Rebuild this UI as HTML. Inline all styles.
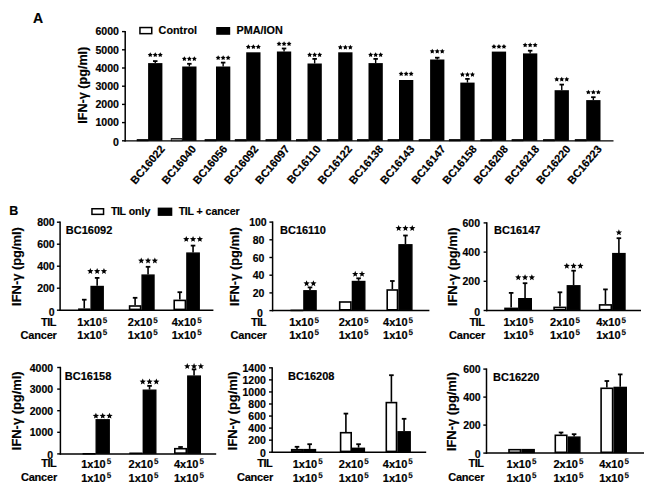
<!DOCTYPE html>
<html><head><meta charset="utf-8"><style>
html,body{margin:0;padding:0;background:#fff;width:650px;height:488px;overflow:hidden}
svg text{font-family:"Liberation Sans", sans-serif;font-weight:bold;fill:#000;stroke:#000;stroke-width:0.18px}
</style></head><body>
<svg width="650" height="488" viewBox="0 0 650 488" font-family='"Liberation Sans", sans-serif' font-weight="bold" style="display:block">
<rect width="650" height="488" fill="#fff"/>
<text x="33.00" y="22.60" font-size="14" text-anchor="start">A</text>
<rect x="139.95" y="27.55" width="11.80" height="6.10" fill="#fff" stroke="#000" stroke-width="1.5"/>
<text x="158.60" y="34.00" font-size="10.8" text-anchor="start">Control</text>
<rect x="216.20" y="27.00" width="14.00" height="7.80" fill="#000"/>
<text x="236.50" y="34.00" font-size="10.8" text-anchor="start">PMA/ION</text>
<line x1="125.20" y1="31.00" x2="125.20" y2="141.50" stroke="#000" stroke-width="1.5"/>
<line x1="124.50" y1="140.80" x2="613.50" y2="140.80" stroke="#000" stroke-width="1.3"/>
<line x1="122.00" y1="140.80" x2="125.20" y2="140.80" stroke="#000" stroke-width="1.4"/>
<text x="119.00" y="146.20" font-size="10.6" text-anchor="end">0</text>
<line x1="122.00" y1="122.60" x2="125.20" y2="122.60" stroke="#000" stroke-width="1.4"/>
<text x="119.00" y="126.40" font-size="10.6" text-anchor="end">1000</text>
<line x1="122.00" y1="104.40" x2="125.20" y2="104.40" stroke="#000" stroke-width="1.4"/>
<text x="119.00" y="108.20" font-size="10.6" text-anchor="end">2000</text>
<line x1="122.00" y1="86.20" x2="125.20" y2="86.20" stroke="#000" stroke-width="1.4"/>
<text x="119.00" y="90.00" font-size="10.6" text-anchor="end">3000</text>
<line x1="122.00" y1="68.00" x2="125.20" y2="68.00" stroke="#000" stroke-width="1.4"/>
<text x="119.00" y="71.80" font-size="10.6" text-anchor="end">4000</text>
<line x1="122.00" y1="49.80" x2="125.20" y2="49.80" stroke="#000" stroke-width="1.4"/>
<text x="119.00" y="53.60" font-size="10.6" text-anchor="end">5000</text>
<line x1="122.00" y1="31.60" x2="125.20" y2="31.60" stroke="#000" stroke-width="1.4"/>
<text x="119.00" y="35.40" font-size="10.6" text-anchor="end">6000</text>
<text x="87.20" y="85.20" font-size="12.6" text-anchor="middle" transform="rotate(-90 87.20 85.20)">IFN-γ (pg/ml)</text>
<rect x="137.10" y="139.60" width="11" height="1.20" fill="#000" stroke="#000" stroke-width="0.8"/>
<rect x="148.10" y="63.10" width="14.30" height="77.70" fill="#000"/>
<line x1="155.25" y1="63.10" x2="155.25" y2="61.10" stroke="#000" stroke-width="1.4"/>
<line x1="153.00" y1="61.10" x2="157.50" y2="61.10" stroke="#000" stroke-width="1.8"/>
<polygon points="150.25,52.36 151.04,53.87 152.72,54.16 151.54,55.38 151.78,57.06 150.25,56.31 148.72,57.06 148.96,55.38 147.78,54.16 149.46,53.87" fill="#000"/>
<polygon points="155.25,52.36 156.04,53.87 157.72,54.16 156.54,55.38 156.78,57.06 155.25,56.31 153.72,57.06 153.96,55.38 152.78,54.16 154.46,53.87" fill="#000"/>
<polygon points="160.25,52.36 161.04,53.87 162.72,54.16 161.54,55.38 161.78,57.06 160.25,56.31 158.72,57.06 158.96,55.38 157.78,54.16 159.46,53.87" fill="#000"/>
<text x="165.40" y="149.30" font-size="11" text-anchor="end" transform="rotate(-50 165.40 149.30)">BC16022</text>
<rect x="171.20" y="138.60" width="11" height="2.20" fill="#888" stroke="#000" stroke-width="0.8"/>
<rect x="182.20" y="66.50" width="14.30" height="74.30" fill="#000"/>
<line x1="189.35" y1="66.50" x2="189.35" y2="63.80" stroke="#000" stroke-width="1.4"/>
<line x1="187.10" y1="63.80" x2="191.60" y2="63.80" stroke="#000" stroke-width="1.8"/>
<polygon points="184.35,56.21 185.14,57.72 186.82,58.01 185.64,59.23 185.88,60.91 184.35,60.16 182.82,60.91 183.06,59.23 181.88,58.01 183.56,57.72" fill="#000"/>
<polygon points="189.35,56.21 190.14,57.72 191.82,58.01 190.64,59.23 190.88,60.91 189.35,60.16 187.82,60.91 188.06,59.23 186.88,58.01 188.56,57.72" fill="#000"/>
<polygon points="194.35,56.21 195.14,57.72 196.82,58.01 195.64,59.23 195.88,60.91 194.35,60.16 192.82,60.91 193.06,59.23 191.88,58.01 193.56,57.72" fill="#000"/>
<text x="196.61" y="149.30" font-size="11" text-anchor="end" transform="rotate(-50 196.61 149.30)">BC16040</text>
<rect x="205.00" y="139.60" width="11" height="1.20" fill="#000" stroke="#000" stroke-width="0.8"/>
<rect x="216.00" y="66.50" width="14.30" height="74.30" fill="#000"/>
<line x1="223.15" y1="66.50" x2="223.15" y2="62.60" stroke="#000" stroke-width="1.4"/>
<line x1="220.90" y1="62.60" x2="225.40" y2="62.60" stroke="#000" stroke-width="1.8"/>
<polygon points="218.15,55.21 218.94,56.72 220.62,57.01 219.44,58.23 219.68,59.91 218.15,59.16 216.62,59.91 216.86,58.23 215.68,57.01 217.36,56.72" fill="#000"/>
<polygon points="223.15,55.21 223.94,56.72 225.62,57.01 224.44,58.23 224.68,59.91 223.15,59.16 221.62,59.91 221.86,58.23 220.68,57.01 222.36,56.72" fill="#000"/>
<polygon points="228.15,55.21 228.94,56.72 230.62,57.01 229.44,58.23 229.68,59.91 228.15,59.16 226.62,59.91 226.86,58.23 225.68,57.01 227.36,56.72" fill="#000"/>
<text x="227.82" y="149.30" font-size="11" text-anchor="end" transform="rotate(-50 227.82 149.30)">BC16056</text>
<rect x="235.20" y="139.60" width="11" height="1.20" fill="#000" stroke="#000" stroke-width="0.8"/>
<rect x="246.20" y="52.30" width="14.30" height="88.50" fill="#000"/>
<polygon points="248.35,44.36 249.14,45.87 250.82,46.16 249.64,47.38 249.88,49.06 248.35,48.31 246.82,49.06 247.06,47.38 245.88,46.16 247.56,45.87" fill="#000"/>
<polygon points="253.35,44.36 254.14,45.87 255.82,46.16 254.64,47.38 254.88,49.06 253.35,48.31 251.82,49.06 252.06,47.38 250.88,46.16 252.56,45.87" fill="#000"/>
<polygon points="258.35,44.36 259.14,45.87 260.82,46.16 259.64,47.38 259.88,49.06 258.35,48.31 256.82,49.06 257.06,47.38 255.88,46.16 257.56,45.87" fill="#000"/>
<text x="259.03" y="149.30" font-size="11" text-anchor="end" transform="rotate(-50 259.03 149.30)">BC16092</text>
<rect x="265.90" y="139.60" width="11" height="1.20" fill="#000" stroke="#000" stroke-width="0.8"/>
<rect x="276.90" y="51.50" width="14.30" height="89.30" fill="#000"/>
<line x1="284.05" y1="51.50" x2="284.05" y2="48.50" stroke="#000" stroke-width="1.4"/>
<line x1="281.80" y1="48.50" x2="286.30" y2="48.50" stroke="#000" stroke-width="1.8"/>
<polygon points="279.05,41.26 279.84,42.77 281.52,43.06 280.34,44.28 280.58,45.96 279.05,45.21 277.52,45.96 277.76,44.28 276.58,43.06 278.26,42.77" fill="#000"/>
<polygon points="284.05,41.26 284.84,42.77 286.52,43.06 285.34,44.28 285.58,45.96 284.05,45.21 282.52,45.96 282.76,44.28 281.58,43.06 283.26,42.77" fill="#000"/>
<polygon points="289.05,41.26 289.84,42.77 291.52,43.06 290.34,44.28 290.58,45.96 289.05,45.21 287.52,45.96 287.76,44.28 286.58,43.06 288.26,42.77" fill="#000"/>
<text x="290.24" y="149.30" font-size="11" text-anchor="end" transform="rotate(-50 290.24 149.30)">BC16097</text>
<rect x="296.50" y="139.60" width="11" height="1.20" fill="#000" stroke="#000" stroke-width="0.8"/>
<rect x="307.50" y="63.50" width="14.30" height="77.30" fill="#000"/>
<line x1="314.65" y1="63.50" x2="314.65" y2="58.90" stroke="#000" stroke-width="1.4"/>
<line x1="312.40" y1="58.90" x2="316.90" y2="58.90" stroke="#000" stroke-width="1.8"/>
<polygon points="309.65,52.31 310.44,53.82 312.12,54.11 310.94,55.33 311.18,57.01 309.65,56.26 308.12,57.01 308.36,55.33 307.18,54.11 308.86,53.82" fill="#000"/>
<polygon points="314.65,52.31 315.44,53.82 317.12,54.11 315.94,55.33 316.18,57.01 314.65,56.26 313.12,57.01 313.36,55.33 312.18,54.11 313.86,53.82" fill="#000"/>
<polygon points="319.65,52.31 320.44,53.82 322.12,54.11 320.94,55.33 321.18,57.01 319.65,56.26 318.12,57.01 318.36,55.33 317.18,54.11 318.86,53.82" fill="#000"/>
<text x="321.45" y="149.30" font-size="11" text-anchor="end" transform="rotate(-50 321.45 149.30)">BC16110</text>
<rect x="327.20" y="139.60" width="11" height="1.20" fill="#000" stroke="#000" stroke-width="0.8"/>
<rect x="338.20" y="52.30" width="14.30" height="88.50" fill="#000"/>
<polygon points="340.35,44.71 341.14,46.22 342.82,46.51 341.64,47.73 341.88,49.41 340.35,48.66 338.82,49.41 339.06,47.73 337.88,46.51 339.56,46.22" fill="#000"/>
<polygon points="345.35,44.71 346.14,46.22 347.82,46.51 346.64,47.73 346.88,49.41 345.35,48.66 343.82,49.41 344.06,47.73 342.88,46.51 344.56,46.22" fill="#000"/>
<polygon points="350.35,44.71 351.14,46.22 352.82,46.51 351.64,47.73 351.88,49.41 350.35,48.66 348.82,49.41 349.06,47.73 347.88,46.51 349.56,46.22" fill="#000"/>
<text x="352.66" y="149.30" font-size="11" text-anchor="end" transform="rotate(-50 352.66 149.30)">BC16122</text>
<rect x="357.50" y="139.60" width="11" height="1.20" fill="#000" stroke="#000" stroke-width="0.8"/>
<rect x="368.50" y="63.10" width="14.30" height="77.70" fill="#000"/>
<line x1="375.65" y1="63.10" x2="375.65" y2="58.90" stroke="#000" stroke-width="1.4"/>
<line x1="373.40" y1="58.90" x2="377.90" y2="58.90" stroke="#000" stroke-width="1.8"/>
<polygon points="370.65,52.31 371.44,53.82 373.12,54.11 371.94,55.33 372.18,57.01 370.65,56.26 369.12,57.01 369.36,55.33 368.18,54.11 369.86,53.82" fill="#000"/>
<polygon points="375.65,52.31 376.44,53.82 378.12,54.11 376.94,55.33 377.18,57.01 375.65,56.26 374.12,57.01 374.36,55.33 373.18,54.11 374.86,53.82" fill="#000"/>
<polygon points="380.65,52.31 381.44,53.82 383.12,54.11 381.94,55.33 382.18,57.01 380.65,56.26 379.12,57.01 379.36,55.33 378.18,54.11 379.86,53.82" fill="#000"/>
<text x="383.87" y="149.30" font-size="11" text-anchor="end" transform="rotate(-50 383.87 149.30)">BC16138</text>
<rect x="388.00" y="139.60" width="11" height="1.20" fill="#000" stroke="#000" stroke-width="0.8"/>
<rect x="399.00" y="80.00" width="14.30" height="60.80" fill="#000"/>
<polygon points="401.15,71.26 401.94,72.77 403.62,73.06 402.44,74.28 402.68,75.96 401.15,75.21 399.62,75.96 399.86,74.28 398.68,73.06 400.36,72.77" fill="#000"/>
<polygon points="406.15,71.26 406.94,72.77 408.62,73.06 407.44,74.28 407.68,75.96 406.15,75.21 404.62,75.96 404.86,74.28 403.68,73.06 405.36,72.77" fill="#000"/>
<polygon points="411.15,71.26 411.94,72.77 413.62,73.06 412.44,74.28 412.68,75.96 411.15,75.21 409.62,75.96 409.86,74.28 408.68,73.06 410.36,72.77" fill="#000"/>
<text x="415.08" y="149.30" font-size="11" text-anchor="end" transform="rotate(-50 415.08 149.30)">BC16143</text>
<rect x="419.10" y="139.60" width="11" height="1.20" fill="#000" stroke="#000" stroke-width="0.8"/>
<rect x="430.10" y="59.50" width="14.30" height="81.30" fill="#000"/>
<line x1="437.25" y1="59.50" x2="437.25" y2="57.70" stroke="#000" stroke-width="1.4"/>
<line x1="435.00" y1="57.70" x2="439.50" y2="57.70" stroke="#000" stroke-width="1.8"/>
<polygon points="432.25,48.71 433.04,50.22 434.72,50.51 433.54,51.73 433.78,53.41 432.25,52.66 430.72,53.41 430.96,51.73 429.78,50.51 431.46,50.22" fill="#000"/>
<polygon points="437.25,48.71 438.04,50.22 439.72,50.51 438.54,51.73 438.78,53.41 437.25,52.66 435.72,53.41 435.96,51.73 434.78,50.51 436.46,50.22" fill="#000"/>
<polygon points="442.25,48.71 443.04,50.22 444.72,50.51 443.54,51.73 443.78,53.41 442.25,52.66 440.72,53.41 440.96,51.73 439.78,50.51 441.46,50.22" fill="#000"/>
<text x="446.29" y="149.30" font-size="11" text-anchor="end" transform="rotate(-50 446.29 149.30)">BC16147</text>
<rect x="449.30" y="139.60" width="11" height="1.20" fill="#000" stroke="#000" stroke-width="0.8"/>
<rect x="460.30" y="82.60" width="14.30" height="58.20" fill="#000"/>
<line x1="467.45" y1="82.60" x2="467.45" y2="78.90" stroke="#000" stroke-width="1.4"/>
<line x1="465.20" y1="78.90" x2="469.70" y2="78.90" stroke="#000" stroke-width="1.8"/>
<polygon points="462.45,72.01 463.24,73.52 464.92,73.81 463.74,75.03 463.98,76.71 462.45,75.96 460.92,76.71 461.16,75.03 459.98,73.81 461.66,73.52" fill="#000"/>
<polygon points="467.45,72.01 468.24,73.52 469.92,73.81 468.74,75.03 468.98,76.71 467.45,75.96 465.92,76.71 466.16,75.03 464.98,73.81 466.66,73.52" fill="#000"/>
<polygon points="472.45,72.01 473.24,73.52 474.92,73.81 473.74,75.03 473.98,76.71 472.45,75.96 470.92,76.71 471.16,75.03 469.98,73.81 471.66,73.52" fill="#000"/>
<text x="477.50" y="149.30" font-size="11" text-anchor="end" transform="rotate(-50 477.50 149.30)">BC16158</text>
<rect x="480.80" y="139.60" width="11" height="1.20" fill="#000" stroke="#000" stroke-width="0.8"/>
<rect x="491.80" y="51.60" width="14.30" height="89.20" fill="#000"/>
<polygon points="493.95,44.11 494.74,45.62 496.42,45.91 495.24,47.13 495.48,48.81 493.95,48.06 492.42,48.81 492.66,47.13 491.48,45.91 493.16,45.62" fill="#000"/>
<polygon points="498.95,44.11 499.74,45.62 501.42,45.91 500.24,47.13 500.48,48.81 498.95,48.06 497.42,48.81 497.66,47.13 496.48,45.91 498.16,45.62" fill="#000"/>
<polygon points="503.95,44.11 504.74,45.62 506.42,45.91 505.24,47.13 505.48,48.81 503.95,48.06 502.42,48.81 502.66,47.13 501.48,45.91 503.16,45.62" fill="#000"/>
<text x="508.71" y="149.30" font-size="11" text-anchor="end" transform="rotate(-50 508.71 149.30)">BC16208</text>
<rect x="512.00" y="139.60" width="11" height="1.20" fill="#000" stroke="#000" stroke-width="0.8"/>
<rect x="523.00" y="53.40" width="14.30" height="87.40" fill="#000"/>
<line x1="530.15" y1="53.40" x2="530.15" y2="50.70" stroke="#000" stroke-width="1.4"/>
<line x1="527.90" y1="50.70" x2="532.40" y2="50.70" stroke="#000" stroke-width="1.8"/>
<polygon points="525.15,42.46 525.94,43.97 527.62,44.26 526.44,45.48 526.68,47.16 525.15,46.41 523.62,47.16 523.86,45.48 522.68,44.26 524.36,43.97" fill="#000"/>
<polygon points="530.15,42.46 530.94,43.97 532.62,44.26 531.44,45.48 531.68,47.16 530.15,46.41 528.62,47.16 528.86,45.48 527.68,44.26 529.36,43.97" fill="#000"/>
<polygon points="535.15,42.46 535.94,43.97 537.62,44.26 536.44,45.48 536.68,47.16 535.15,46.41 533.62,47.16 533.86,45.48 532.68,44.26 534.36,43.97" fill="#000"/>
<text x="539.92" y="149.30" font-size="11" text-anchor="end" transform="rotate(-50 539.92 149.30)">BC16218</text>
<rect x="543.60" y="139.60" width="11" height="1.20" fill="#000" stroke="#000" stroke-width="0.8"/>
<rect x="554.60" y="90.20" width="14.30" height="50.60" fill="#000"/>
<line x1="561.75" y1="90.20" x2="561.75" y2="84.60" stroke="#000" stroke-width="1.4"/>
<line x1="559.50" y1="84.60" x2="564.00" y2="84.60" stroke="#000" stroke-width="1.8"/>
<polygon points="556.75,76.71 557.54,78.22 559.22,78.51 558.04,79.73 558.28,81.41 556.75,80.66 555.22,81.41 555.46,79.73 554.28,78.51 555.96,78.22" fill="#000"/>
<polygon points="561.75,76.71 562.54,78.22 564.22,78.51 563.04,79.73 563.28,81.41 561.75,80.66 560.22,81.41 560.46,79.73 559.28,78.51 560.96,78.22" fill="#000"/>
<polygon points="566.75,76.71 567.54,78.22 569.22,78.51 568.04,79.73 568.28,81.41 566.75,80.66 565.22,81.41 565.46,79.73 564.28,78.51 565.96,78.22" fill="#000"/>
<text x="571.13" y="149.30" font-size="11" text-anchor="end" transform="rotate(-50 571.13 149.30)">BC16220</text>
<rect x="575.20" y="139.60" width="11" height="1.20" fill="#000" stroke="#000" stroke-width="0.8"/>
<rect x="586.20" y="100.10" width="14.30" height="40.70" fill="#000"/>
<line x1="593.35" y1="100.10" x2="593.35" y2="97.20" stroke="#000" stroke-width="1.4"/>
<line x1="591.10" y1="97.20" x2="595.60" y2="97.20" stroke="#000" stroke-width="1.8"/>
<polygon points="588.35,89.66 589.14,91.17 590.82,91.46 589.64,92.68 589.88,94.36 588.35,93.61 586.82,94.36 587.06,92.68 585.88,91.46 587.56,91.17" fill="#000"/>
<polygon points="593.35,89.66 594.14,91.17 595.82,91.46 594.64,92.68 594.88,94.36 593.35,93.61 591.82,94.36 592.06,92.68 590.88,91.46 592.56,91.17" fill="#000"/>
<polygon points="598.35,89.66 599.14,91.17 600.82,91.46 599.64,92.68 599.88,94.36 598.35,93.61 596.82,94.36 597.06,92.68 595.88,91.46 597.56,91.17" fill="#000"/>
<text x="602.34" y="149.30" font-size="11" text-anchor="end" transform="rotate(-50 602.34 149.30)">BC16223</text>
<text x="9.20" y="214.50" font-size="12.5" text-anchor="start">B</text>
<rect x="91.95" y="208.75" width="11.60" height="5.60" fill="#fff" stroke="#000" stroke-width="1.5"/>
<text x="111.0" y="214.6" font-size="10.6"><tspan letter-spacing="-0.4">TIL</tspan> only</text>
<rect x="157.70" y="207.60" width="14.60" height="8.30" fill="#000"/>
<text x="178.8" y="214.6" font-size="10.6"><tspan letter-spacing="-0.4">TIL</tspan> + cancer</text>
<line x1="60.10" y1="221.50" x2="60.10" y2="310.90" stroke="#000" stroke-width="1.5"/>
<line x1="59.40" y1="310.20" x2="213.40" y2="310.20" stroke="#000" stroke-width="1.5"/>
<line x1="56.90" y1="310.20" x2="60.10" y2="310.20" stroke="#000" stroke-width="1.4"/>
<text x="54.70" y="315.60" font-size="10.5" text-anchor="end">0</text>
<line x1="56.90" y1="288.20" x2="60.10" y2="288.20" stroke="#000" stroke-width="1.4"/>
<text x="54.70" y="292.20" font-size="10.5" text-anchor="end">200</text>
<line x1="56.90" y1="266.20" x2="60.10" y2="266.20" stroke="#000" stroke-width="1.4"/>
<text x="54.70" y="270.20" font-size="10.5" text-anchor="end">400</text>
<line x1="56.90" y1="244.20" x2="60.10" y2="244.20" stroke="#000" stroke-width="1.4"/>
<text x="54.70" y="248.20" font-size="10.5" text-anchor="end">600</text>
<line x1="56.90" y1="222.20" x2="60.10" y2="222.20" stroke="#000" stroke-width="1.4"/>
<text x="54.70" y="226.20" font-size="10.5" text-anchor="end">800</text>
<text x="65.80" y="233.60" font-size="11" text-anchor="start">BC16092</text>
<text x="21.20" y="266.50" font-size="12.9" text-anchor="middle" transform="rotate(-90 21.20 266.50)">IFN-γ (pg/ml)</text>
<rect x="78.90" y="309.20" width="10.70" height="0.20" fill="#fff" stroke="#000" stroke-width="1.6"/>
<rect x="91.10" y="286.50" width="12.10" height="23.00" fill="#000" stroke="#000" stroke-width="1.4"/>
<line x1="84.25" y1="308.40" x2="84.25" y2="299.70" stroke="#000" stroke-width="1.6"/>
<line x1="81.95" y1="299.70" x2="86.55" y2="299.70" stroke="#000" stroke-width="1.8"/>
<line x1="97.15" y1="285.80" x2="97.15" y2="277.90" stroke="#000" stroke-width="1.6"/>
<line x1="94.85" y1="277.90" x2="99.45" y2="277.90" stroke="#000" stroke-width="1.8"/>
<polygon points="90.35,267.93 91.20,270.06 93.49,270.21 91.73,271.68 92.29,273.90 90.35,272.68 88.41,273.90 88.97,271.68 87.21,270.21 89.50,270.06" fill="#000"/>
<polygon points="97.15,267.93 98.00,270.06 100.29,270.21 98.53,271.68 99.09,273.90 97.15,272.68 95.21,273.90 95.77,271.68 94.01,270.21 96.30,270.06" fill="#000"/>
<polygon points="103.95,267.93 104.80,270.06 107.09,270.21 105.33,271.68 105.89,273.90 103.95,272.68 102.01,273.90 102.57,271.68 100.81,270.21 103.10,270.06" fill="#000"/>
<text x="92.25" y="326.30" font-size="11" text-anchor="middle">1x10<tspan font-size="8" dx="1.0" dy="-3.6" style="stroke-width:0.1px;text-rendering:geometricPrecision">5</tspan></text>
<text x="92.25" y="339.00" font-size="11" text-anchor="middle">1x10<tspan font-size="8" dx="1.0" dy="-3.6" style="stroke-width:0.1px;text-rendering:geometricPrecision">5</tspan></text>
<rect x="129.60" y="306.00" width="11.00" height="3.40" fill="#fff" stroke="#000" stroke-width="1.6"/>
<rect x="142.10" y="275.10" width="11.90" height="34.40" fill="#000" stroke="#000" stroke-width="1.4"/>
<line x1="135.10" y1="305.20" x2="135.10" y2="297.80" stroke="#000" stroke-width="1.6"/>
<line x1="132.80" y1="297.80" x2="137.40" y2="297.80" stroke="#000" stroke-width="1.8"/>
<line x1="148.05" y1="274.40" x2="148.05" y2="266.80" stroke="#000" stroke-width="1.6"/>
<line x1="145.75" y1="266.80" x2="150.35" y2="266.80" stroke="#000" stroke-width="1.8"/>
<polygon points="141.25,257.48 142.10,259.61 144.39,259.76 142.63,261.23 143.19,263.45 141.25,262.23 139.31,263.45 139.87,261.23 138.11,259.76 140.40,259.61" fill="#000"/>
<polygon points="148.05,257.48 148.90,259.61 151.19,259.76 149.43,261.23 149.99,263.45 148.05,262.23 146.11,263.45 146.67,261.23 144.91,259.76 147.20,259.61" fill="#000"/>
<polygon points="154.85,257.48 155.70,259.61 157.99,259.76 156.23,261.23 156.79,263.45 154.85,262.23 152.91,263.45 153.47,261.23 151.71,259.76 154.00,259.61" fill="#000"/>
<text x="142.80" y="326.30" font-size="11" text-anchor="middle">2x10<tspan font-size="8" dx="1.0" dy="-3.6" style="stroke-width:0.1px;text-rendering:geometricPrecision">5</tspan></text>
<text x="142.80" y="339.00" font-size="11" text-anchor="middle">1x10<tspan font-size="8" dx="1.0" dy="-3.6" style="stroke-width:0.1px;text-rendering:geometricPrecision">5</tspan></text>
<rect x="174.20" y="300.40" width="11.20" height="9.00" fill="#fff" stroke="#000" stroke-width="1.6"/>
<rect x="186.90" y="253.10" width="12.30" height="56.40" fill="#000" stroke="#000" stroke-width="1.4"/>
<line x1="179.80" y1="299.60" x2="179.80" y2="292.20" stroke="#000" stroke-width="1.6"/>
<line x1="177.50" y1="292.20" x2="182.10" y2="292.20" stroke="#000" stroke-width="1.8"/>
<line x1="193.05" y1="252.40" x2="193.05" y2="245.60" stroke="#000" stroke-width="1.6"/>
<line x1="190.75" y1="245.60" x2="195.35" y2="245.60" stroke="#000" stroke-width="1.8"/>
<polygon points="186.25,235.88 187.10,238.01 189.39,238.16 187.63,239.63 188.19,241.85 186.25,240.63 184.31,241.85 184.87,239.63 183.11,238.16 185.40,238.01" fill="#000"/>
<polygon points="193.05,235.88 193.90,238.01 196.19,238.16 194.43,239.63 194.99,241.85 193.05,240.63 191.11,241.85 191.67,239.63 189.91,238.16 192.20,238.01" fill="#000"/>
<polygon points="199.85,235.88 200.70,238.01 202.99,238.16 201.23,239.63 201.79,241.85 199.85,240.63 197.91,241.85 198.47,239.63 196.71,238.16 199.00,238.01" fill="#000"/>
<text x="186.70" y="326.30" font-size="11" text-anchor="middle">4x10<tspan font-size="8" dx="1.0" dy="-3.6" style="stroke-width:0.1px;text-rendering:geometricPrecision">5</tspan></text>
<text x="186.70" y="339.00" font-size="11" text-anchor="middle">1x10<tspan font-size="8" dx="1.0" dy="-3.6" style="stroke-width:0.1px;text-rendering:geometricPrecision">5</tspan></text>
<text x="56.00" y="326.30" font-size="11" text-anchor="end" letter-spacing="-0.5">TIL</text>
<text x="56.70" y="339.00" font-size="11" text-anchor="end" letter-spacing="-0.2">Cancer</text>
<line x1="272.60" y1="221.40" x2="272.60" y2="311.30" stroke="#000" stroke-width="1.5"/>
<line x1="271.90" y1="310.60" x2="429.40" y2="310.60" stroke="#000" stroke-width="1.5"/>
<line x1="269.40" y1="310.60" x2="272.60" y2="310.60" stroke="#000" stroke-width="1.4"/>
<text x="262.80" y="317.40" font-size="10.5" text-anchor="end">0</text>
<line x1="269.40" y1="292.90" x2="272.60" y2="292.90" stroke="#000" stroke-width="1.4"/>
<text x="264.40" y="296.90" font-size="10.5" text-anchor="end">20</text>
<line x1="269.40" y1="275.20" x2="272.60" y2="275.20" stroke="#000" stroke-width="1.4"/>
<text x="264.40" y="279.20" font-size="10.5" text-anchor="end">40</text>
<line x1="269.40" y1="257.50" x2="272.60" y2="257.50" stroke="#000" stroke-width="1.4"/>
<text x="264.40" y="261.50" font-size="10.5" text-anchor="end">60</text>
<line x1="269.40" y1="239.80" x2="272.60" y2="239.80" stroke="#000" stroke-width="1.4"/>
<text x="264.40" y="243.80" font-size="10.5" text-anchor="end">80</text>
<line x1="269.40" y1="222.10" x2="272.60" y2="222.10" stroke="#000" stroke-width="1.4"/>
<text x="266.70" y="226.10" font-size="10.5" text-anchor="end">100</text>
<text x="280.00" y="233.60" font-size="11" text-anchor="start">BC16110</text>
<text x="239.20" y="266.50" font-size="12.9" text-anchor="middle" transform="rotate(-90 239.20 266.50)">IFN-γ (pg/ml)</text>
<rect x="291.30" y="310.40" width="11.10" height="0.01" fill="#fff" stroke="#000" stroke-width="1.6"/>
<rect x="303.90" y="290.80" width="12.20" height="19.10" fill="#000" stroke="#000" stroke-width="1.4"/>
<line x1="310.00" y1="290.10" x2="310.00" y2="287.40" stroke="#000" stroke-width="1.6"/>
<line x1="307.70" y1="287.40" x2="312.30" y2="287.40" stroke="#000" stroke-width="1.8"/>
<polygon points="306.60,280.18 307.45,282.31 309.74,282.46 307.98,283.93 308.54,286.15 306.60,284.93 304.66,286.15 305.22,283.93 303.46,282.46 305.75,282.31" fill="#000"/>
<polygon points="313.40,280.18 314.25,282.31 316.54,282.46 314.78,283.93 315.34,286.15 313.40,284.93 311.46,286.15 312.02,283.93 310.26,282.46 312.55,282.31" fill="#000"/>
<text x="304.10" y="326.30" font-size="11" text-anchor="middle">1x10<tspan font-size="8" dx="1.0" dy="-3.6" style="stroke-width:0.1px;text-rendering:geometricPrecision">5</tspan></text>
<text x="304.10" y="339.00" font-size="11" text-anchor="middle">1x10<tspan font-size="8" dx="1.0" dy="-3.6" style="stroke-width:0.1px;text-rendering:geometricPrecision">5</tspan></text>
<rect x="339.70" y="302.00" width="11.20" height="7.80" fill="#fff" stroke="#000" stroke-width="1.6"/>
<rect x="352.40" y="281.50" width="12.40" height="28.40" fill="#000" stroke="#000" stroke-width="1.4"/>
<line x1="358.60" y1="280.80" x2="358.60" y2="278.30" stroke="#000" stroke-width="1.6"/>
<line x1="356.30" y1="278.30" x2="360.90" y2="278.30" stroke="#000" stroke-width="1.8"/>
<polygon points="355.20,270.78 356.05,272.91 358.34,273.06 356.58,274.53 357.14,276.75 355.20,275.53 353.26,276.75 353.82,274.53 352.06,273.06 354.35,272.91" fill="#000"/>
<polygon points="362.00,270.78 362.85,272.91 365.14,273.06 363.38,274.53 363.94,276.75 362.00,275.53 360.06,276.75 360.62,274.53 358.86,273.06 361.15,272.91" fill="#000"/>
<text x="353.60" y="326.30" font-size="11" text-anchor="middle">2x10<tspan font-size="8" dx="1.0" dy="-3.6" style="stroke-width:0.1px;text-rendering:geometricPrecision">5</tspan></text>
<text x="353.60" y="339.00" font-size="11" text-anchor="middle">1x10<tspan font-size="8" dx="1.0" dy="-3.6" style="stroke-width:0.1px;text-rendering:geometricPrecision">5</tspan></text>
<rect x="387.20" y="290.00" width="10.30" height="19.80" fill="#fff" stroke="#000" stroke-width="1.6"/>
<rect x="399.00" y="244.80" width="12.90" height="65.10" fill="#000" stroke="#000" stroke-width="1.4"/>
<line x1="392.35" y1="289.20" x2="392.35" y2="281.00" stroke="#000" stroke-width="1.6"/>
<line x1="390.05" y1="281.00" x2="394.65" y2="281.00" stroke="#000" stroke-width="1.8"/>
<line x1="405.45" y1="244.10" x2="405.45" y2="235.50" stroke="#000" stroke-width="1.6"/>
<line x1="403.15" y1="235.50" x2="407.75" y2="235.50" stroke="#000" stroke-width="1.8"/>
<polygon points="398.65,224.98 399.50,227.11 401.79,227.26 400.03,228.73 400.59,230.95 398.65,229.73 396.71,230.95 397.27,228.73 395.51,227.26 397.80,227.11" fill="#000"/>
<polygon points="405.45,224.98 406.30,227.11 408.59,227.26 406.83,228.73 407.39,230.95 405.45,229.73 403.51,230.95 404.07,228.73 402.31,227.26 404.60,227.11" fill="#000"/>
<polygon points="412.25,224.98 413.10,227.11 415.39,227.26 413.63,228.73 414.19,230.95 412.25,229.73 410.31,230.95 410.87,228.73 409.11,227.26 411.40,227.11" fill="#000"/>
<text x="398.00" y="326.30" font-size="11" text-anchor="middle">4x10<tspan font-size="8" dx="1.0" dy="-3.6" style="stroke-width:0.1px;text-rendering:geometricPrecision">5</tspan></text>
<text x="398.00" y="339.00" font-size="11" text-anchor="middle">1x10<tspan font-size="8" dx="1.0" dy="-3.6" style="stroke-width:0.1px;text-rendering:geometricPrecision">5</tspan></text>
<text x="266.00" y="326.30" font-size="11" text-anchor="end" letter-spacing="-0.5">TIL</text>
<text x="266.70" y="339.00" font-size="11" text-anchor="end" letter-spacing="-0.2">Cancer</text>
<line x1="486.80" y1="222.20" x2="486.80" y2="311.20" stroke="#000" stroke-width="1.5"/>
<line x1="486.10" y1="310.50" x2="641.00" y2="310.50" stroke="#000" stroke-width="1.5"/>
<line x1="483.60" y1="310.50" x2="486.80" y2="310.50" stroke="#000" stroke-width="1.4"/>
<text x="480.00" y="316.00" font-size="10.5" text-anchor="end">0</text>
<line x1="483.60" y1="281.30" x2="486.80" y2="281.30" stroke="#000" stroke-width="1.4"/>
<text x="480.00" y="285.30" font-size="10.5" text-anchor="end">200</text>
<line x1="483.60" y1="252.10" x2="486.80" y2="252.10" stroke="#000" stroke-width="1.4"/>
<text x="480.00" y="256.10" font-size="10.5" text-anchor="end">400</text>
<line x1="483.60" y1="222.90" x2="486.80" y2="222.90" stroke="#000" stroke-width="1.4"/>
<text x="480.00" y="226.90" font-size="10.5" text-anchor="end">600</text>
<text x="494.00" y="233.60" font-size="11" text-anchor="start">BC16147</text>
<text x="456.70" y="266.70" font-size="12.9" text-anchor="middle" transform="rotate(-90 456.70 266.70)">IFN-γ (pg/ml)</text>
<rect x="505.00" y="308.40" width="12.30" height="1.30" fill="#fff" stroke="#000" stroke-width="1.6"/>
<rect x="518.80" y="298.70" width="12.50" height="11.10" fill="#000" stroke="#000" stroke-width="1.4"/>
<line x1="511.15" y1="307.60" x2="511.15" y2="292.90" stroke="#000" stroke-width="1.6"/>
<line x1="508.85" y1="292.90" x2="513.45" y2="292.90" stroke="#000" stroke-width="1.8"/>
<line x1="525.05" y1="298.00" x2="525.05" y2="283.20" stroke="#000" stroke-width="1.6"/>
<line x1="522.75" y1="283.20" x2="527.35" y2="283.20" stroke="#000" stroke-width="1.8"/>
<polygon points="518.25,274.18 519.10,276.31 521.39,276.46 519.63,277.93 520.19,280.15 518.25,278.93 516.31,280.15 516.87,277.93 515.11,276.46 517.40,276.31" fill="#000"/>
<polygon points="525.05,274.18 525.90,276.31 528.19,276.46 526.43,277.93 526.99,280.15 525.05,278.93 523.11,280.15 523.67,277.93 521.91,276.46 524.20,276.31" fill="#000"/>
<polygon points="531.85,274.18 532.70,276.31 534.99,276.46 533.23,277.93 533.79,280.15 531.85,278.93 529.91,280.15 530.47,277.93 528.71,276.46 531.00,276.31" fill="#000"/>
<text x="518.40" y="326.30" font-size="11" text-anchor="middle">1x10<tspan font-size="8" dx="1.0" dy="-3.6" style="stroke-width:0.1px;text-rendering:geometricPrecision">5</tspan></text>
<text x="518.40" y="339.00" font-size="11" text-anchor="middle">1x10<tspan font-size="8" dx="1.0" dy="-3.6" style="stroke-width:0.1px;text-rendering:geometricPrecision">5</tspan></text>
<rect x="554.10" y="307.40" width="11.70" height="2.30" fill="#fff" stroke="#000" stroke-width="1.6"/>
<rect x="567.30" y="285.80" width="12.60" height="24.00" fill="#000" stroke="#000" stroke-width="1.4"/>
<line x1="559.95" y1="306.60" x2="559.95" y2="292.30" stroke="#000" stroke-width="1.6"/>
<line x1="557.65" y1="292.30" x2="562.25" y2="292.30" stroke="#000" stroke-width="1.8"/>
<line x1="573.60" y1="285.10" x2="573.60" y2="270.70" stroke="#000" stroke-width="1.6"/>
<line x1="571.30" y1="270.70" x2="575.90" y2="270.70" stroke="#000" stroke-width="1.8"/>
<polygon points="566.80,262.68 567.65,264.81 569.94,264.96 568.18,266.43 568.74,268.65 566.80,267.43 564.86,268.65 565.42,266.43 563.66,264.96 565.95,264.81" fill="#000"/>
<polygon points="573.60,262.68 574.45,264.81 576.74,264.96 574.98,266.43 575.54,268.65 573.60,267.43 571.66,268.65 572.22,266.43 570.46,264.96 572.75,264.81" fill="#000"/>
<polygon points="580.40,262.68 581.25,264.81 583.54,264.96 581.78,266.43 582.34,268.65 580.40,267.43 578.46,268.65 579.02,266.43 577.26,264.96 579.55,264.81" fill="#000"/>
<text x="565.00" y="326.30" font-size="11" text-anchor="middle">2x10<tspan font-size="8" dx="1.0" dy="-3.6" style="stroke-width:0.1px;text-rendering:geometricPrecision">5</tspan></text>
<text x="565.00" y="339.00" font-size="11" text-anchor="middle">1x10<tspan font-size="8" dx="1.0" dy="-3.6" style="stroke-width:0.1px;text-rendering:geometricPrecision">5</tspan></text>
<rect x="599.60" y="304.90" width="11.70" height="4.80" fill="#fff" stroke="#000" stroke-width="1.6"/>
<rect x="612.80" y="253.60" width="12.20" height="56.20" fill="#000" stroke="#000" stroke-width="1.4"/>
<line x1="605.45" y1="304.10" x2="605.45" y2="289.40" stroke="#000" stroke-width="1.6"/>
<line x1="603.15" y1="289.40" x2="607.75" y2="289.40" stroke="#000" stroke-width="1.8"/>
<line x1="618.90" y1="252.90" x2="618.90" y2="238.20" stroke="#000" stroke-width="1.6"/>
<line x1="616.60" y1="238.20" x2="621.20" y2="238.20" stroke="#000" stroke-width="1.8"/>
<polygon points="618.90,229.28 619.75,231.41 622.04,231.56 620.28,233.03 620.84,235.25 618.90,234.03 616.96,235.25 617.52,233.03 615.76,231.56 618.05,231.41" fill="#000"/>
<text x="611.10" y="326.30" font-size="11" text-anchor="middle">4x10<tspan font-size="8" dx="1.0" dy="-3.6" style="stroke-width:0.1px;text-rendering:geometricPrecision">5</tspan></text>
<text x="611.10" y="339.00" font-size="11" text-anchor="middle">1x10<tspan font-size="8" dx="1.0" dy="-3.6" style="stroke-width:0.1px;text-rendering:geometricPrecision">5</tspan></text>
<text x="484.40" y="326.30" font-size="11" text-anchor="end" letter-spacing="-0.5">TIL</text>
<text x="485.10" y="339.00" font-size="11" text-anchor="end" letter-spacing="-0.2">Cancer</text>
<line x1="60.40" y1="366.80" x2="60.40" y2="454.60" stroke="#000" stroke-width="1.5"/>
<line x1="59.70" y1="453.90" x2="216.20" y2="453.90" stroke="#000" stroke-width="1.5"/>
<line x1="57.20" y1="453.90" x2="60.40" y2="453.90" stroke="#000" stroke-width="1.4"/>
<text x="53.10" y="458.70" font-size="10.5" text-anchor="end">0</text>
<line x1="57.20" y1="432.30" x2="60.40" y2="432.30" stroke="#000" stroke-width="1.4"/>
<text x="53.10" y="436.30" font-size="10.5" text-anchor="end">1000</text>
<line x1="57.20" y1="410.70" x2="60.40" y2="410.70" stroke="#000" stroke-width="1.4"/>
<text x="53.10" y="414.70" font-size="10.5" text-anchor="end">2000</text>
<line x1="57.20" y1="389.10" x2="60.40" y2="389.10" stroke="#000" stroke-width="1.4"/>
<text x="53.10" y="393.10" font-size="10.5" text-anchor="end">3000</text>
<line x1="57.20" y1="367.50" x2="60.40" y2="367.50" stroke="#000" stroke-width="1.4"/>
<text x="53.10" y="371.50" font-size="10.5" text-anchor="end">4000</text>
<text x="64.80" y="379.80" font-size="11" text-anchor="start">BC16158</text>
<text x="20.60" y="410.80" font-size="12.9" text-anchor="middle" transform="rotate(-90 20.60 410.80)">IFN-γ (pg/ml)</text>
<rect x="83.40" y="453.80" width="11.30" height="0.01" fill="#fff" stroke="#000" stroke-width="1.6"/>
<rect x="96.20" y="419.80" width="13.00" height="33.40" fill="#000" stroke="#000" stroke-width="1.4"/>
<polygon points="95.90,412.63 96.75,414.76 99.04,414.91 97.28,416.38 97.84,418.60 95.90,417.38 93.96,418.60 94.52,416.38 92.76,414.91 95.05,414.76" fill="#000"/>
<polygon points="102.70,412.63 103.55,414.76 105.84,414.91 104.08,416.38 104.64,418.60 102.70,417.38 100.76,418.60 101.32,416.38 99.56,414.91 101.85,414.76" fill="#000"/>
<polygon points="109.50,412.63 110.35,414.76 112.64,414.91 110.88,416.38 111.44,418.60 109.50,417.38 107.56,418.60 108.12,416.38 106.36,414.91 108.65,414.76" fill="#000"/>
<text x="96.20" y="468.00" font-size="11" text-anchor="middle">1x10<tspan font-size="8" dx="1.0" dy="-3.6" style="stroke-width:0.1px;text-rendering:geometricPrecision">5</tspan></text>
<text x="96.20" y="481.80" font-size="11" text-anchor="middle">1x10<tspan font-size="8" dx="1.0" dy="-3.6" style="stroke-width:0.1px;text-rendering:geometricPrecision">5</tspan></text>
<rect x="130.10" y="453.30" width="11.70" height="0.01" fill="#fff" stroke="#000" stroke-width="1.6"/>
<rect x="143.30" y="390.20" width="12.50" height="63.00" fill="#000" stroke="#000" stroke-width="1.4"/>
<line x1="149.55" y1="389.50" x2="149.55" y2="385.90" stroke="#000" stroke-width="1.6"/>
<line x1="147.25" y1="385.90" x2="151.85" y2="385.90" stroke="#000" stroke-width="1.8"/>
<polygon points="142.75,378.48 143.60,380.61 145.89,380.76 144.13,382.23 144.69,384.45 142.75,383.23 140.81,384.45 141.37,382.23 139.61,380.76 141.90,380.61" fill="#000"/>
<polygon points="149.55,378.48 150.40,380.61 152.69,380.76 150.93,382.23 151.49,384.45 149.55,383.23 147.61,384.45 148.17,382.23 146.41,380.76 148.70,380.61" fill="#000"/>
<polygon points="156.35,378.48 157.20,380.61 159.49,380.76 157.73,382.23 158.29,384.45 156.35,383.23 154.41,384.45 154.97,382.23 153.21,380.76 155.50,380.61" fill="#000"/>
<text x="143.50" y="468.00" font-size="11" text-anchor="middle">2x10<tspan font-size="8" dx="1.0" dy="-3.6" style="stroke-width:0.1px;text-rendering:geometricPrecision">5</tspan></text>
<text x="143.50" y="481.80" font-size="11" text-anchor="middle">1x10<tspan font-size="8" dx="1.0" dy="-3.6" style="stroke-width:0.1px;text-rendering:geometricPrecision">5</tspan></text>
<rect x="174.80" y="448.70" width="11.50" height="4.40" fill="#fff" stroke="#000" stroke-width="1.6"/>
<rect x="187.80" y="376.10" width="12.50" height="77.10" fill="#000" stroke="#000" stroke-width="1.4"/>
<line x1="180.55" y1="447.90" x2="180.55" y2="447.00" stroke="#000" stroke-width="1.6"/>
<line x1="178.25" y1="447.00" x2="182.85" y2="447.00" stroke="#000" stroke-width="1.8"/>
<line x1="194.05" y1="375.40" x2="194.05" y2="369.40" stroke="#000" stroke-width="1.6"/>
<line x1="191.75" y1="369.40" x2="196.35" y2="369.40" stroke="#000" stroke-width="1.8"/>
<polygon points="187.25,363.08 188.10,365.21 190.39,365.36 188.63,366.83 189.19,369.05 187.25,367.83 185.31,369.05 185.87,366.83 184.11,365.36 186.40,365.21" fill="#000"/>
<polygon points="194.05,363.08 194.90,365.21 197.19,365.36 195.43,366.83 195.99,369.05 194.05,367.83 192.11,369.05 192.67,366.83 190.91,365.36 193.20,365.21" fill="#000"/>
<polygon points="200.85,363.08 201.70,365.21 203.99,365.36 202.23,366.83 202.79,369.05 200.85,367.83 198.91,369.05 199.47,366.83 197.71,365.36 200.00,365.21" fill="#000"/>
<text x="188.90" y="468.00" font-size="11" text-anchor="middle">4x10<tspan font-size="8" dx="1.0" dy="-3.6" style="stroke-width:0.1px;text-rendering:geometricPrecision">5</tspan></text>
<text x="188.90" y="481.80" font-size="11" text-anchor="middle">1x10<tspan font-size="8" dx="1.0" dy="-3.6" style="stroke-width:0.1px;text-rendering:geometricPrecision">5</tspan></text>
<text x="56.30" y="467.40" font-size="11" text-anchor="end" letter-spacing="-0.5">TIL</text>
<text x="57.00" y="481.20" font-size="11" text-anchor="end" letter-spacing="-0.2">Cancer</text>
<line x1="272.20" y1="367.15" x2="272.20" y2="452.90" stroke="#000" stroke-width="1.5"/>
<line x1="271.50" y1="452.20" x2="426.20" y2="452.20" stroke="#000" stroke-width="1.5"/>
<line x1="269.00" y1="452.20" x2="272.20" y2="452.20" stroke="#000" stroke-width="1.4"/>
<text x="265.90" y="457.20" font-size="10.5" text-anchor="end">0</text>
<line x1="269.00" y1="440.15" x2="272.20" y2="440.15" stroke="#000" stroke-width="1.4"/>
<text x="265.90" y="444.15" font-size="10.5" text-anchor="end">200</text>
<line x1="269.00" y1="428.10" x2="272.20" y2="428.10" stroke="#000" stroke-width="1.4"/>
<text x="265.90" y="432.10" font-size="10.5" text-anchor="end">400</text>
<line x1="269.00" y1="416.05" x2="272.20" y2="416.05" stroke="#000" stroke-width="1.4"/>
<text x="265.90" y="420.05" font-size="10.5" text-anchor="end">600</text>
<line x1="269.00" y1="404.00" x2="272.20" y2="404.00" stroke="#000" stroke-width="1.4"/>
<text x="265.90" y="408.00" font-size="10.5" text-anchor="end">800</text>
<line x1="269.00" y1="391.95" x2="272.20" y2="391.95" stroke="#000" stroke-width="1.4"/>
<text x="265.90" y="395.95" font-size="10.5" text-anchor="end">1000</text>
<line x1="269.00" y1="379.90" x2="272.20" y2="379.90" stroke="#000" stroke-width="1.4"/>
<text x="265.90" y="383.90" font-size="10.5" text-anchor="end">1200</text>
<line x1="269.00" y1="367.85" x2="272.20" y2="367.85" stroke="#000" stroke-width="1.4"/>
<text x="265.90" y="371.85" font-size="10.5" text-anchor="end">1400</text>
<text x="288.00" y="380.40" font-size="11" text-anchor="start">BC16208</text>
<text x="237.40" y="410.80" font-size="12.9" text-anchor="middle" transform="rotate(-90 237.40 410.80)">IFN-γ (pg/ml)</text>
<rect x="291.70" y="449.70" width="10.60" height="1.70" fill="#fff" stroke="#000" stroke-width="1.6"/>
<rect x="303.80" y="449.60" width="11.70" height="1.90" fill="#000" stroke="#000" stroke-width="1.4"/>
<line x1="297.00" y1="448.90" x2="297.00" y2="446.80" stroke="#000" stroke-width="1.6"/>
<line x1="294.70" y1="446.80" x2="299.30" y2="446.80" stroke="#000" stroke-width="1.8"/>
<line x1="309.65" y1="448.90" x2="309.65" y2="444.20" stroke="#000" stroke-width="1.6"/>
<line x1="307.35" y1="444.20" x2="311.95" y2="444.20" stroke="#000" stroke-width="1.8"/>
<text x="307.70" y="468.00" font-size="11" text-anchor="middle">1x10<tspan font-size="8" dx="1.0" dy="-3.6" style="stroke-width:0.1px;text-rendering:geometricPrecision">5</tspan></text>
<text x="307.70" y="481.80" font-size="11" text-anchor="middle">1x10<tspan font-size="8" dx="1.0" dy="-3.6" style="stroke-width:0.1px;text-rendering:geometricPrecision">5</tspan></text>
<rect x="340.60" y="432.70" width="10.60" height="18.70" fill="#fff" stroke="#000" stroke-width="1.6"/>
<rect x="352.70" y="448.30" width="11.70" height="3.20" fill="#000" stroke="#000" stroke-width="1.4"/>
<line x1="345.90" y1="431.90" x2="345.90" y2="413.60" stroke="#000" stroke-width="1.6"/>
<line x1="343.60" y1="413.60" x2="348.20" y2="413.60" stroke="#000" stroke-width="1.8"/>
<line x1="358.55" y1="447.60" x2="358.55" y2="444.20" stroke="#000" stroke-width="1.6"/>
<line x1="356.25" y1="444.20" x2="360.85" y2="444.20" stroke="#000" stroke-width="1.8"/>
<text x="353.80" y="468.00" font-size="11" text-anchor="middle">2x10<tspan font-size="8" dx="1.0" dy="-3.6" style="stroke-width:0.1px;text-rendering:geometricPrecision">5</tspan></text>
<text x="353.80" y="481.80" font-size="11" text-anchor="middle">1x10<tspan font-size="8" dx="1.0" dy="-3.6" style="stroke-width:0.1px;text-rendering:geometricPrecision">5</tspan></text>
<rect x="386.30" y="402.60" width="10.20" height="48.80" fill="#fff" stroke="#000" stroke-width="1.6"/>
<rect x="398.00" y="431.80" width="12.20" height="19.70" fill="#000" stroke="#000" stroke-width="1.4"/>
<line x1="391.40" y1="401.80" x2="391.40" y2="375.20" stroke="#000" stroke-width="1.6"/>
<line x1="389.10" y1="375.20" x2="393.70" y2="375.20" stroke="#000" stroke-width="1.8"/>
<line x1="404.10" y1="431.10" x2="404.10" y2="418.80" stroke="#000" stroke-width="1.6"/>
<line x1="401.80" y1="418.80" x2="406.40" y2="418.80" stroke="#000" stroke-width="1.8"/>
<text x="397.80" y="468.00" font-size="11" text-anchor="middle">4x10<tspan font-size="8" dx="1.0" dy="-3.6" style="stroke-width:0.1px;text-rendering:geometricPrecision">5</tspan></text>
<text x="397.80" y="481.80" font-size="11" text-anchor="middle">1x10<tspan font-size="8" dx="1.0" dy="-3.6" style="stroke-width:0.1px;text-rendering:geometricPrecision">5</tspan></text>
<text x="272.30" y="467.40" font-size="11" text-anchor="end" letter-spacing="-0.5">TIL</text>
<text x="273.00" y="481.20" font-size="11" text-anchor="end" letter-spacing="-0.2">Cancer</text>
<line x1="486.50" y1="368.40" x2="486.50" y2="453.80" stroke="#000" stroke-width="1.5"/>
<line x1="485.80" y1="453.10" x2="644.00" y2="453.10" stroke="#000" stroke-width="1.5"/>
<line x1="483.30" y1="453.10" x2="486.50" y2="453.10" stroke="#000" stroke-width="1.4"/>
<text x="480.70" y="458.10" font-size="10.5" text-anchor="end">0</text>
<line x1="483.30" y1="425.10" x2="486.50" y2="425.10" stroke="#000" stroke-width="1.4"/>
<text x="480.70" y="429.10" font-size="10.5" text-anchor="end">200</text>
<line x1="483.30" y1="397.10" x2="486.50" y2="397.10" stroke="#000" stroke-width="1.4"/>
<text x="480.70" y="401.10" font-size="10.5" text-anchor="end">400</text>
<line x1="483.30" y1="369.10" x2="486.50" y2="369.10" stroke="#000" stroke-width="1.4"/>
<text x="480.70" y="373.10" font-size="10.5" text-anchor="end">600</text>
<text x="493.00" y="381.00" font-size="11" text-anchor="start">BC16220</text>
<text x="456.00" y="411.70" font-size="12.9" text-anchor="middle" transform="rotate(-90 456.00 411.70)">IFN-γ (pg/ml)</text>
<rect x="509.00" y="449.70" width="11.50" height="2.60" fill="#fff" stroke="#000" stroke-width="1.6"/>
<rect x="522.00" y="449.60" width="12.20" height="2.80" fill="#000" stroke="#000" stroke-width="1.4"/>
<text x="521.50" y="468.00" font-size="11" text-anchor="middle">1x10<tspan font-size="8" dx="1.0" dy="-3.6" style="stroke-width:0.1px;text-rendering:geometricPrecision">5</tspan></text>
<text x="521.50" y="481.80" font-size="11" text-anchor="middle">1x10<tspan font-size="8" dx="1.0" dy="-3.6" style="stroke-width:0.1px;text-rendering:geometricPrecision">5</tspan></text>
<rect x="555.30" y="435.30" width="11.50" height="17.00" fill="#fff" stroke="#000" stroke-width="1.6"/>
<rect x="568.30" y="437.10" width="11.60" height="15.30" fill="#000" stroke="#000" stroke-width="1.4"/>
<line x1="561.05" y1="434.50" x2="561.05" y2="432.50" stroke="#000" stroke-width="1.6"/>
<line x1="558.75" y1="432.50" x2="563.35" y2="432.50" stroke="#000" stroke-width="1.8"/>
<line x1="574.10" y1="436.40" x2="574.10" y2="434.20" stroke="#000" stroke-width="1.6"/>
<line x1="571.80" y1="434.20" x2="576.40" y2="434.20" stroke="#000" stroke-width="1.8"/>
<text x="568.40" y="468.00" font-size="11" text-anchor="middle">2x10<tspan font-size="8" dx="1.0" dy="-3.6" style="stroke-width:0.1px;text-rendering:geometricPrecision">5</tspan></text>
<text x="568.40" y="481.80" font-size="11" text-anchor="middle">1x10<tspan font-size="8" dx="1.0" dy="-3.6" style="stroke-width:0.1px;text-rendering:geometricPrecision">5</tspan></text>
<rect x="601.10" y="388.30" width="11.50" height="64.00" fill="#fff" stroke="#000" stroke-width="1.6"/>
<rect x="614.10" y="387.40" width="12.20" height="65.00" fill="#000" stroke="#000" stroke-width="1.4"/>
<line x1="606.85" y1="387.50" x2="606.85" y2="381.00" stroke="#000" stroke-width="1.6"/>
<line x1="604.55" y1="381.00" x2="609.15" y2="381.00" stroke="#000" stroke-width="1.8"/>
<line x1="620.20" y1="386.70" x2="620.20" y2="374.40" stroke="#000" stroke-width="1.6"/>
<line x1="617.90" y1="374.40" x2="622.50" y2="374.40" stroke="#000" stroke-width="1.8"/>
<text x="614.10" y="468.00" font-size="11" text-anchor="middle">4x10<tspan font-size="8" dx="1.0" dy="-3.6" style="stroke-width:0.1px;text-rendering:geometricPrecision">5</tspan></text>
<text x="614.10" y="481.80" font-size="11" text-anchor="middle">1x10<tspan font-size="8" dx="1.0" dy="-3.6" style="stroke-width:0.1px;text-rendering:geometricPrecision">5</tspan></text>
<text x="483.60" y="467.40" font-size="11" text-anchor="end" letter-spacing="-0.5">TIL</text>
<text x="484.30" y="481.20" font-size="11" text-anchor="end" letter-spacing="-0.2">Cancer</text>
</svg>
</body></html>
